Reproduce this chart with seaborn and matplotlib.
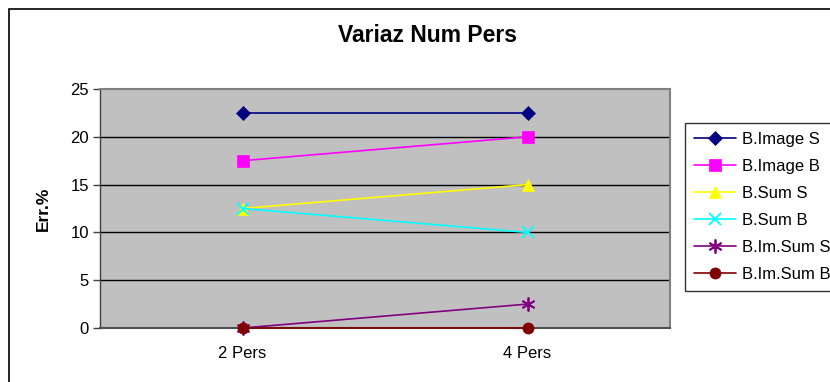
import matplotlib
matplotlib.use("Agg")
import matplotlib.pyplot as plt
from matplotlib.patches import Rectangle
import seaborn as sns
import pandas as pd

categories = ["2 Pers", "4 Pers"]
series_names = ["B.Image S", "B.Image B", "B.Sum S", "B.Sum B", "B.Im.Sum S", "B.Im.Sum B"]
image_s = [22.5, 22.5]
image_b = [17.5, 20.0]
sum_s = [12.5, 15.0]
sum_b = [12.5, 10.0]
im_sum_s = [0.0, 2.5]
im_sum_b = [0.0, 0.0]
y_ticks = [0, 5, 10, 15, 20, 25]

series_values = [image_s, image_b, sum_s, sum_b, im_sum_s, im_sum_b]
colors = ["#000080", "#FF00FF", "#FFFF00", "#00FFFF", "#800080", "#800000"]
markers = ["D", "s", "^", "x", (6, 2, 0), "o"]
msizes = [7, 8, 9, 9, 10, 8]

sns.set_theme(style="white")
plt.rcParams["font.family"] = ["Liberation Sans", "DejaVu Sans"]
plt.rcParams["text.color"] = "black"
plt.rcParams["axes.labelcolor"] = "black"
plt.rcParams["xtick.labelcolor"] = "black"
plt.rcParams["ytick.labelcolor"] = "black"

fig = plt.figure(figsize=(8.3, 3.82), dpi=100)
ax = fig.add_axes([100 / 830, 1 - 328 / 382, 570 / 830, 239 / 382])

# outer chart frame
fig.patches.append(Rectangle((9 / 830, -0.05), 1.0, 1 - 9 / 382 + 0.05,
                             transform=fig.transFigure, fill=False,
                             edgecolor="black", linewidth=1.2, zorder=0))

for name, vals, c, m, ms in zip(series_names, series_values, colors, markers, msizes):
    df = pd.DataFrame({"cat": categories, "val": vals})
    sns.lineplot(data=df, x="cat", y="val", ax=ax, color=c, marker=m,
                 markersize=ms, markeredgecolor=c,
                 markeredgewidth=1.3 if m in ("x", (6, 2, 0)) else 0.5,
                 linewidth=1.2, label=name, sort=False, zorder=3, clip_on=False)

ax.set_facecolor("#C0C0C0")
ax.set_xlim(-0.5, 1.5)
ax.set_ylim(0, 25)
ax.set_yticks(y_ticks)
ax.set_yticklabels([str(t) for t in y_ticks], fontsize=12)
ax.set_xticks([0, 1])
ax.set_xticklabels(categories, fontsize=12)
ax.set_xticks([-0.5, 0.5, 1.5], minor=True)
ax.tick_params(axis="x", which="major", length=0, pad=13)
ax.tick_params(axis="x", which="minor", length=5, width=1, color="#404040", direction="out")
ax.tick_params(axis="y", length=5, width=1, color="#404040", direction="out", pad=3, left=True)
for t in y_ticks[1:-1]:
    ax.axhline(t, color="black", linewidth=1.0, zorder=1)
for side in ["top", "right"]:
    ax.spines[side].set_color("#808080")
    ax.spines[side].set_linewidth(1.5)
ax.spines["left"].set_color("#404040")
ax.spines["bottom"].set_color("#505050")
ax.spines["bottom"].set_linewidth(1.5)
ax.spines["left"].set_linewidth(1.0)

ax.set_xlabel("")
ax.set_ylabel("Err.%", fontsize=12.5, fontweight="bold", labelpad=14)
fig.text(0.515, 1 - 35 / 382, "Variaz Num Pers", ha="center", va="center",
         fontsize=16.5, fontweight="bold")

leg = ax.legend(loc="upper left", bbox_to_anchor=(685 / 830, 1 - 123 / 382),
                bbox_transform=fig.transFigure, frameon=True, fancybox=False,
                edgecolor="black", fontsize=12, handlelength=2.5,
                handletextpad=0.35, labelspacing=0.72, borderpad=0.55,
                borderaxespad=0)
leg.get_frame().set_linewidth(1.0)
for txt in leg.get_texts():
    txt.set_color("black")

fig.savefig("out.png", dpi=100)
